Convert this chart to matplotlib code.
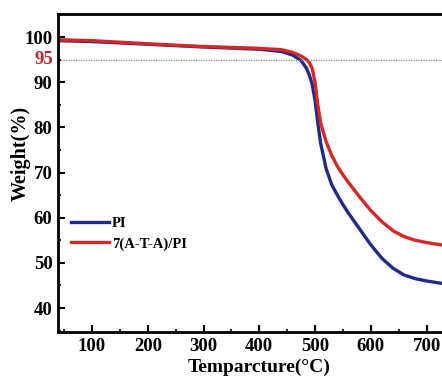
import matplotlib
matplotlib.use("Agg")
import matplotlib.pyplot as plt
from matplotlib.ticker import MultipleLocator, FixedLocator

temperature = [40, 100, 200, 300, 400, 440, 460, 475, 485, 490, 495, 500, 505, 510,
               520, 530, 540, 550, 560, 580, 600, 620, 640, 660, 680, 700, 720, 740, 760]
weight_pi = [99.2, 99.0, 98.4, 97.8, 97.3, 96.8, 96.0, 94.8, 93.0, 91.5, 89.5, 86.0, 81.0, 76.5,
             70.8, 67.3, 65.0, 62.9, 61.0, 57.5, 54.0, 51.0, 48.8, 47.3, 46.5, 46.0, 45.6, 45.3, 45.1]
weight_ata = [99.4, 99.2, 98.5, 97.9, 97.5, 97.2, 96.6, 95.8, 95.0, 94.3, 93.0, 90.0, 85.0, 81.0,
              76.8, 73.8, 71.4, 69.5, 67.8, 64.6, 61.6, 59.1, 57.1, 55.8, 55.0, 54.5, 54.1, 53.8, 53.6]
series_labels = ["PI", "7(A-T-A)/PI"]
x_ticks = [100, 200, 300, 400, 500, 600, 700]
y_ticks = [40, 50, 60, 70, 80, 90, 100]
ref_level = 95

plt.rcParams['font.family'] = ['Liberation Serif', 'DejaVu Serif']
plt.rcParams['font.weight'] = 'bold'

fig = plt.figure(figsize=(4.42, 3.81), dpi=100)
ax = fig.add_axes([58/442, 49/381, 402/442, 318/381])

ax.plot(temperature, weight_pi, color='#1f2a8a', lw=2.4, label=series_labels[0])
ax.plot(temperature, weight_ata, color='#d62728', lw=2.4, label=series_labels[1])
ax.axhline(ref_level, color='#888888', lw=0.9, ls=(0, (1, 1)))

ax.set_xlim(39, 760)
ax.set_ylim(34.7, 105.1)
ax.xaxis.set_major_locator(FixedLocator(x_ticks))
ax.yaxis.set_major_locator(FixedLocator(y_ticks))
ax.xaxis.set_minor_locator(MultipleLocator(50))
ax.yaxis.set_minor_locator(MultipleLocator(5))
ax.tick_params(which='major', direction='in', length=5, width=1.5, labelsize=13.5, pad=4)
ax.tick_params(which='minor', direction='in', length=2.5, width=1.2)
for lbl in ax.get_xticklabels() + ax.get_yticklabels():
    lbl.set_fontweight('bold')

ax.text(-0.012, ref_level, str(ref_level), color='#c0282d', fontsize=13.5, fontweight='bold',
        ha='right', va='center', transform=ax.get_yaxis_transform())

for s in ['left', 'bottom', 'top']:
    ax.spines[s].set_linewidth(2)
ax.spines['right'].set_visible(False)

ax.set_xlabel('Temparcture(°C)', fontsize=14, fontweight='bold', labelpad=3)
ax.set_ylabel('Weight(%)', fontsize=14.5, fontweight='bold')
ax.yaxis.set_label_coords(-0.068, 0.56)

leg = ax.legend(loc='lower left', bbox_to_anchor=(0.0, 0.215), frameon=False,
                prop={'weight': 'bold', 'size': 10.5}, handlelength=2.6, handletextpad=0.2,
                labelspacing=0.45)

fig.savefig('out.png', dpi=100)
